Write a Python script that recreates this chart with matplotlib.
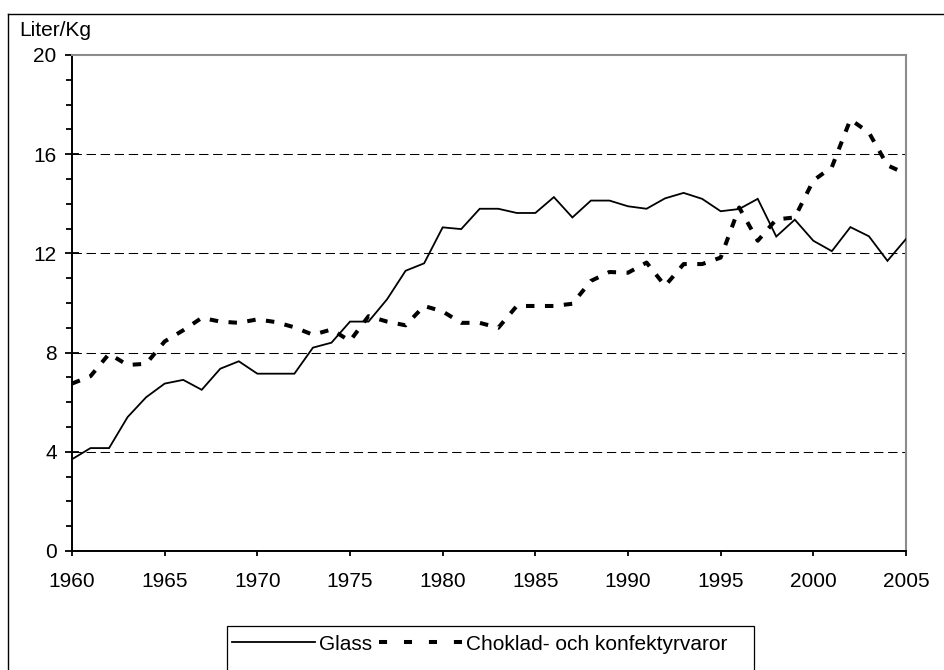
import matplotlib
matplotlib.use("Agg")
import matplotlib.pyplot as plt
from matplotlib.lines import Line2D
from matplotlib.patches import Rectangle
from matplotlib.ticker import MultipleLocator

years = list(range(1960, 2006))
glass = [3.7, 4.15, 4.15, 5.4, 6.2, 6.75, 6.9, 6.5, 7.35, 7.65,
         7.15, 7.15, 7.15, 8.2, 8.4, 9.25, 9.25, 10.15, 11.3, 11.6,
         13.05, 12.98, 13.8, 13.8, 13.63, 13.63, 14.27, 13.45, 14.13, 14.13,
         13.9, 13.8, 14.22, 14.44, 14.2, 13.7, 13.79, 14.2, 12.68, 13.36,
         12.51, 12.09, 13.06, 12.69, 11.7, 12.58]
choklad = [6.75, 7.05, 7.95, 7.5, 7.55, 8.45, 8.9, 9.4, 9.25, 9.2,
           9.34, 9.23, 9.02, 8.72, 8.93, 8.47, 9.47, 9.25, 9.1, 9.88,
           9.66, 9.2, 9.2, 9.0, 9.88, 9.88, 9.88, 9.97, 10.89, 11.25,
           11.22, 11.63, 10.69, 11.57, 11.57, 11.83, 13.85, 12.51, 13.37, 13.45,
           14.94, 15.48, 17.4, 16.87, 15.55, 15.21]
y_major = [0, 4, 8, 12, 16, 20]
grid_vals = [4, 8, 12, 16]
x_ticks = [1960, 1965, 1970, 1975, 1980, 1985, 1990, 1995, 2000, 2005]
label_glass = "Glass"
label_choklad = "Choklad- och konfektyrvaror"
y_unit = "Liter/Kg"

plt.rcParams['font.family'] = ['Liberation Sans', 'DejaVu Sans']
FS = 15

W, H = 945, 670
fig = plt.figure(figsize=(W / 100, H / 100), dpi=100)
ax = fig.add_axes([72 / W, 1 - 551 / H, (906 - 72) / W, (551 - 55) / H])

for g in grid_vals:
    ax.axhline(g, color='black', lw=0.75, linestyle=(0, (9, 4.5)), zorder=1)

ax.plot(years, glass, color='black', lw=1.3, solid_joinstyle='miter', zorder=3)
ax.plot(years, choklad, color='black', lw=2.9, dashes=(2.1, 2.6),
        dash_capstyle='butt', zorder=3)

ax.set_xlim(1960, 2005)
ax.set_ylim(0, 20)
ax.set_xticks(x_ticks)
ax.set_yticks(y_major)
ax.yaxis.set_minor_locator(MultipleLocator(1))
ax.tick_params(axis='y', which='major', direction='inout', length=10, width=1.3,
               labelsize=FS, pad=6)
ax.tick_params(axis='y', which='minor', direction='out', length=4.3, width=1.3)
ax.tick_params(axis='x', which='major', direction='out', length=3.8, width=1.3,
               labelsize=FS, pad=11)

for s in ['left', 'bottom']:
    ax.spines[s].set_color('black')
    ax.spines[s].set_linewidth(1.4)
for s in ['top', 'right']:
    ax.spines[s].set_color('#8c8c8c')
    ax.spines[s].set_linewidth(1.5)

fig.text(19 / W, 1 - 36 / H, y_unit, fontsize=FS, ha='left', va='baseline')

# outer frame (clipped at figure edges like the reference)
fig.add_artist(Line2D([8 / W, 8 / W], [1 - 14 / H, -0.1], transform=fig.transFigure,
                      color='black', lw=1.0))
fig.add_artist(Line2D([8 / W, 1.1], [1 - 14 / H, 1 - 14 / H], transform=fig.transFigure,
                      color='black', lw=1.0))

# legend box
fig.add_artist(Rectangle((227 / W, -0.1), (754 - 227) / W, 1 - 626 / H + 0.1,
                         transform=fig.transFigure, fill=False, edgecolor='black',
                         lw=0.9))
h1 = Line2D([], [], color='black', lw=1.3)
h2 = Line2D([], [], color='black', lw=2.9, dashes=(2.0, 4.2))
leg = fig.legend([h1, h2], [label_glass, label_choklad], loc='center left',
                 bbox_to_anchor=(232 / W, 1 - 644 / H), ncol=2, frameon=False,
                 fontsize=FS, handlelength=4.0, handletextpad=0.2,
                 columnspacing=0.3, borderpad=0, borderaxespad=0)

fig.savefig("out.png", dpi=100)
